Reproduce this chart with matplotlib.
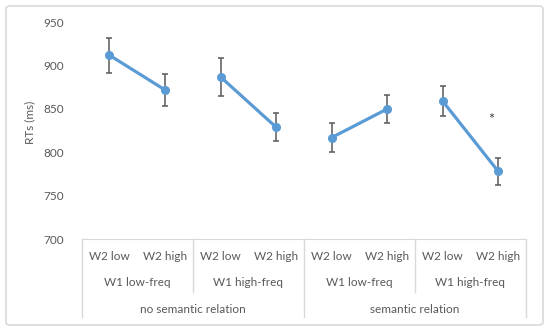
import matplotlib.pyplot as plt
from matplotlib.patches import FancyBboxPatch
from matplotlib.transforms import blended_transform_factory

plt.rcParams['font.family'] = ['Lato', 'DejaVu Sans']

W2_LABELS = ["W2 low", "W2 high"] * 4
W1_LABELS = ["W1 low-freq", "W1 high-freq", "W1 low-freq", "W1 high-freq"]
SEM_LABELS = ["no semantic relation", "semantic relation"]
RT_MEANS = [912, 872, 887, 829, 817, 850, 859, 778]
RT_ERRORS = [20, 18, 22, 16, 16.5, 16, 17, 16]

BLUE = "#5B9BD5"
TEXT = "#595959"
GRID = "#D9D9D9"
W, H = 550, 333


def fy(py):
    # pixel row from top -> figure fraction
    return 1 - py / H


fig = plt.figure(figsize=(5.5, 3.33), dpi=100)
fig.patches.append(FancyBboxPatch((6 / W, fy(325)), 537 / W, 319 / H,
                                  boxstyle="round,pad=0,rounding_size=0.008",
                                  transform=fig.transFigure, fill=False,
                                  edgecolor=GRID, linewidth=1.2))

ax = fig.add_axes([81.7 / W, fy(239), 444.3 / W, 216.7 / H])

xs = list(range(len(RT_MEANS)))
for i in range(0, len(xs), 2):
    ax.plot(xs[i:i + 2], RT_MEANS[i:i + 2], color=BLUE, lw=2.3,
            marker="o", ms=5.5, zorder=3)
ax.errorbar(xs, RT_MEANS, yerr=RT_ERRORS, fmt="none", ecolor="#595959",
            elinewidth=1.1, capsize=2.5, capthick=1.1, zorder=2)
ax.text(6.87, 837, "*", ha="center", va="center", fontsize=10.5,
        color="#404040")

ax.set_xlim(-0.5, len(xs) - 0.5)
ax.set_ylim(700, 950)
ax.set_yticks(range(700, 951, 50))
ax.tick_params(axis="y", length=0, pad=13, labelsize=8.5, labelcolor=TEXT)
ax.set_xticks([])
for side in ["top", "right", "left"]:
    ax.spines[side].set_visible(False)
ax.spines["bottom"].set_color(GRID)
ax.set_ylabel("RTs (ms)", color=TEXT, fontsize=8.5)
ax.yaxis.set_label_coords(-0.104, 0.54)

# multi-level category table under the axis
tr = blended_transform_factory(ax.transData, fig.transFigure)
for x in [-0.5, 3.5, 7.5]:
    ax.plot([x, x], [fy(239), fy(317)], transform=tr, color=GRID,
            lw=1, clip_on=False)
for x in [1.5, 5.5]:
    ax.plot([x, x], [fy(239), fy(292)], transform=tr, color=GRID,
            lw=1, clip_on=False)
for i, lab in enumerate(W2_LABELS):
    ax.text(i, fy(257), lab, transform=tr, ha="center", va="center",
            fontsize=8.5, color=TEXT)
for i, lab in enumerate(W1_LABELS):
    ax.text(2 * i + 0.5, fy(283), lab, transform=tr, ha="center",
            va="center", fontsize=8.5, color=TEXT)
for i, lab in enumerate(SEM_LABELS):
    ax.text(4 * i + 1.5, fy(309.5), lab, transform=tr, ha="center",
            va="center", fontsize=8.5, color=TEXT)

fig.savefig("out.png", dpi=100)
